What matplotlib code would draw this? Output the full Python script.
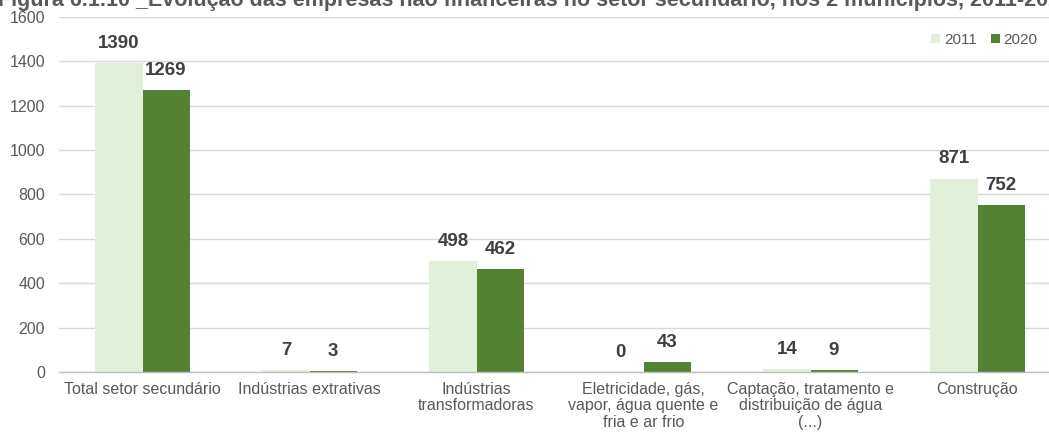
import matplotlib
matplotlib.use("Agg")
import matplotlib.pyplot as plt
import numpy as np

plt.rcParams['font.family'] = ['Liberation Sans', 'DejaVu Sans']

categories = [
    "Total setor secundário",
    "Indústrias extrativas",
    "Indústrias\ntransformadoras",
    "Eletricidade, gás,\nvapor, água quente e\nfria e ar frio",
    "Captação, tratamento e\ndistribuição de água\n(...)",
    "Construção",
]
values_2011 = [1390, 7, 498, 0, 14, 871]
values_2020 = [1269, 3, 462, 43, 9, 752]
series_labels = ["2011", "2020"]
yticks = [0, 200, 400, 600, 800, 1000, 1200, 1400, 1600]
title = ("Figura 6.1.10 _Evolução das empresas não financeiras no setor "
         "secundário, nos 2 municípios, 2011-2020")

light = "#E2EFDA"
dark = "#548235"
text_grey = "#595959"
label_grey = "#404040"

fig = plt.figure(figsize=(10.49, 4.32), dpi=100)
# axes run past the right edge of the figure
ax = fig.add_axes([59 / 1049, 60 / 432, 1002 / 1049, 355.3 / 432])

x = np.arange(len(categories))
w = 0.282
b1 = ax.bar(x - w / 2, values_2011, w, color=light, label=series_labels[0], zorder=2)
b2 = ax.bar(x + w / 2, values_2020, w, color=dark, label=series_labels[1], zorder=2)

for bars, vals in ((b1, values_2011), (b2, values_2020)):
    for rect, v in zip(bars, vals):
        ax.annotate(f"{v}", (rect.get_x() + rect.get_width() / 2, v),
                    xytext=(0, 8), textcoords="offset points",
                    ha="center", va="bottom", fontsize=13.5, fontweight="bold",
                    color=label_grey)

ax.set_xlim(-0.5, len(categories) - 0.5)
ax.set_ylim(0, 1600)
ax.set_yticks(yticks)
ax.set_yticklabels([str(t) for t in yticks], fontsize=11.5, color=text_grey)
ax.set_xticks(x)
ax.set_xticklabels(categories, fontsize=11.5, color=text_grey, linespacing=1.12)
ax.tick_params(axis="both", length=0)
ax.tick_params(axis="y", pad=10)
ax.tick_params(axis="x", pad=7)
ax.yaxis.grid(True, color="#D9D9D9", linewidth=1.0, zorder=0)
ax.set_axisbelow(True)
for s in ("top", "right", "left"):
    ax.spines[s].set_visible(False)
ax.spines["bottom"].set_color("#BFBFBF")
ax.spines["bottom"].set_linewidth(1.0)

fig.legend(loc="upper right", bbox_to_anchor=(0.998, 0.945), ncol=2, frameon=False,
           fontsize=11, labelcolor=text_grey, handlelength=0.6, handleheight=0.6,
           handletextpad=0.25, columnspacing=0.9, borderaxespad=0.2)

fig.text(-0.002, (432 - 6) / 432, title, fontsize=15.5, fontweight="bold",
         color=text_grey, ha="left", va="baseline")

fig.savefig("out.png", dpi=100)
